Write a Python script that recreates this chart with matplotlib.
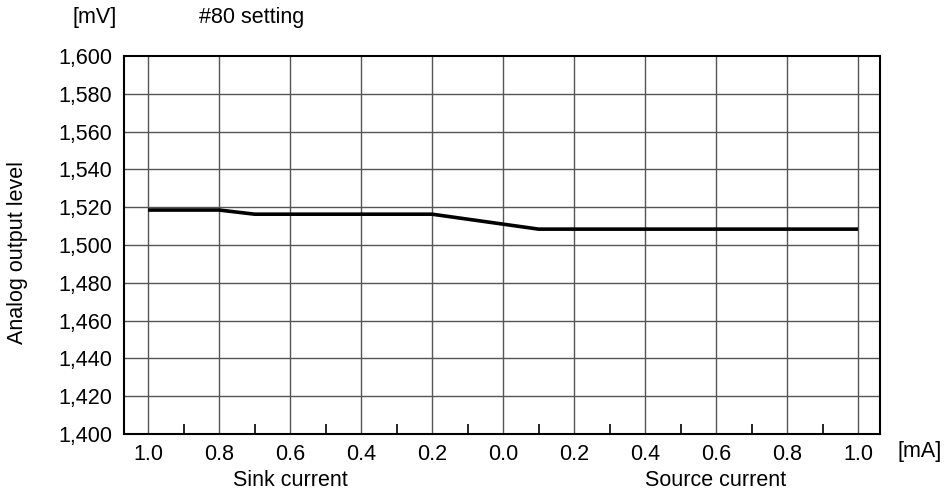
import matplotlib
matplotlib.use("Agg")
import matplotlib.pyplot as plt
import numpy as np

plt.rcParams['font.family'] = ['Liberation Sans', 'DejaVu Sans']

# data: negative = sink current, positive = source current (mA)
current = [-1.0, -0.8, -0.7, -0.2, 0.1, 1.0]
level = [1518.5, 1518.5, 1516.3, 1516.3, 1508.4, 1508.4]

major_ticks = [-1.0, -0.8, -0.6, -0.4, -0.2, 0.0, 0.2, 0.4, 0.6, 0.8, 1.0]
major_labels = ["1.0", "0.8", "0.6", "0.4", "0.2", "0.0", "0.2", "0.4", "0.6", "0.8", "1.0"]
minor_ticks = [-0.9, -0.7, -0.5, -0.3, -0.1, 0.1, 0.3, 0.5, 0.7, 0.9]
y_ticks = list(range(1400, 1601, 20))

FS = 15.5

fig = plt.figure(figsize=(9.51, 4.95), dpi=100)
ax = fig.add_axes([124/951, 1-434/495, (880-124)/951, (434-56)/495])

ax.set_xlim(-1.068, 1.062)
ax.set_ylim(1400, 1600)

for x in major_ticks:
    ax.axvline(x, color='#555555', lw=1.0, zorder=1)
for y in y_ticks[1:-1]:
    ax.axhline(y, color='#555555', lw=1.0, zorder=1)

ax.plot(current, level, color='black', lw=2.6, zorder=3, solid_capstyle='butt')

ax.set_xticks(major_ticks)
ax.set_xticklabels(major_labels, fontsize=FS)
ax.set_xticks(minor_ticks, minor=True)
ax.tick_params(axis='x', which='major', length=0, pad=7)
ax.tick_params(axis='x', which='minor', direction='in', length=7, width=1.2, color='black')
ax.set_yticks(y_ticks)
ax.set_yticklabels([f"{v:,}" for v in y_ticks], fontsize=FS)
ax.tick_params(axis='y', length=0, pad=8.5)

for s in ax.spines.values():
    s.set_linewidth(1.5)
    s.set_color('black')

fig.text(18/951, 1-252/495, "Analog output level", rotation=90, ha='center', va='center', fontsize=FS)
fig.text(95/951, 1-18/495, "[mV]", ha='center', va='center', fontsize=FS)
fig.text(252/951, 1-18/495, "#80 setting", ha='center', va='center', fontsize=FS)
fig.text(920/951, 1-452/495, "[mA]", ha='center', va='center', fontsize=FS)
fig.text(290/951, 1-481/495, "Sink current", ha='center', va='center', fontsize=FS)
fig.text(716/951, 1-481/495, "Source current", ha='center', va='center', fontsize=FS)

fig.savefig("out.png", dpi=100)
